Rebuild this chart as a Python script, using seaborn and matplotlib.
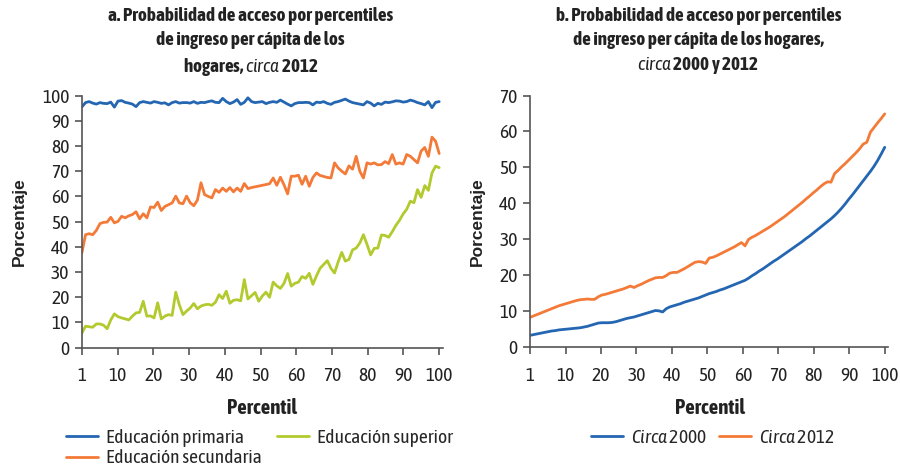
import numpy as np
import pandas as pd
import matplotlib
matplotlib.use("Agg")
import matplotlib.pyplot as plt
import seaborn as sns

# Data (percentiles 1..100)
percentil = list(range(1, 101))

primaria = [
    95.5, 97.2, 97.6, 97.0, 96.6, 97.2, 96.9, 96.8, 97.4, 95.4,
    97.8, 98.0, 97.3, 97.0, 96.6, 95.6, 97.2, 97.6, 97.3, 97.0,
    97.6, 97.3, 96.9, 97.1, 96.3, 97.2, 97.6, 97.0, 97.2, 97.2,
    97.0, 97.6, 96.9, 97.3, 97.2, 97.6, 97.9, 97.3, 97.2, 98.9,
    97.6, 96.8, 97.4, 98.4, 96.5, 97.3, 99.1, 97.6, 97.2, 97.4,
    97.6, 96.8, 97.3, 97.6, 97.3, 98.2, 97.4, 96.6, 95.9, 96.8,
    97.2, 97.2, 97.3, 97.2, 96.3, 97.4, 97.2, 97.6, 96.9, 96.5,
    97.3, 97.6, 98.1, 98.6, 97.8, 97.2, 96.9, 96.6, 96.3, 97.6,
    97.0, 95.9, 96.9, 96.5, 97.4, 97.2, 97.5, 97.9, 97.8, 97.4,
    97.6, 98.2, 97.8, 97.2, 96.8, 96.3, 97.6, 95.2, 97.3, 97.6,
]

secundaria = [
    37.6, 44.8, 45.2, 44.8, 46.5, 49.2, 49.7, 49.8, 51.7, 49.5,
    50.1, 52.1, 51.5, 52.3, 52.8, 53.9, 51.1, 53.1, 51.5, 55.8,
    55.6, 57.7, 54.4, 56.0, 56.7, 57.4, 60.1, 57.4, 57.1, 60.1,
    57.5, 56.3, 58.5, 65.4, 60.7, 60.0, 59.4, 62.7, 61.6, 63.3,
    62.0, 63.5, 61.8, 63.3, 62.0, 65.1, 63.1, 63.5, 63.8, 64.1,
    64.4, 64.7, 65.0, 67.3, 64.4, 67.6, 64.6, 61.0, 68.0, 68.0,
    68.4, 64.8, 68.0, 64.0, 67.5, 69.3, 68.3, 67.9, 67.5, 67.3,
    73.3, 71.3, 70.0, 68.9, 72.1, 70.8, 75.9, 70.0, 67.3, 73.3,
    72.8, 73.3, 72.5, 72.6, 73.8, 73.0, 76.6, 72.8, 73.3, 72.8,
    76.6, 75.9, 74.6, 73.3, 78.0, 79.4, 75.9, 83.5, 81.9, 77.0,
]

superior = [
    5.8, 8.5, 8.3, 8.1, 9.4, 9.4, 8.9, 7.5, 11.0, 13.4,
    12.3, 11.8, 11.4, 11.0, 12.5, 13.8, 14.0, 18.4, 12.5, 12.6,
    11.8, 17.8, 11.4, 12.5, 13.1, 12.8, 22.0, 17.0, 13.1, 14.5,
    15.7, 17.5, 15.4, 16.5, 17.0, 17.2, 16.8, 18.0, 21.0, 19.5,
    22.4, 17.6, 18.8, 19.0, 18.6, 27.0, 19.3, 20.6, 21.9, 18.4,
    20.5, 22.0, 20.0, 26.0, 24.5, 23.5, 25.5, 29.4, 24.4, 25.5,
    26.0, 28.2, 27.5, 29.5, 25.1, 28.5, 31.5, 33.0, 34.5, 31.5,
    29.6, 34.0, 37.8, 34.3, 35.0, 38.8, 39.5, 41.5, 44.8, 41.0,
    36.8, 39.4, 39.5, 44.7, 44.5, 43.8, 46.0, 48.5, 50.5, 53.0,
    54.9, 58.1, 57.5, 62.7, 59.6, 64.3, 62.4, 69.3, 72.0, 71.4,
]

circa_2000 = [
    3.3, 3.5, 3.7, 3.9, 4.1, 4.3, 4.5, 4.6, 4.8, 4.9,
    5.0, 5.1, 5.2, 5.3, 5.4, 5.6, 5.8, 6.1, 6.4, 6.7,
    6.8, 6.8, 6.8, 6.9, 7.1, 7.4, 7.7, 8.0, 8.2, 8.4,
    8.7, 9.0, 9.3, 9.6, 9.9, 10.2, 10.1, 9.8, 10.7, 11.2,
    11.5, 11.8, 12.1, 12.5, 12.8, 13.1, 13.4, 13.7, 14.1, 14.5,
    14.9, 15.2, 15.5, 15.9, 16.2, 16.6, 17.0, 17.4, 17.8, 18.2,
    18.6, 19.2, 19.9, 20.5, 21.2, 21.8, 22.5, 23.2, 23.9, 24.5,
    25.2, 25.9, 26.6, 27.3, 28.0, 28.7, 29.4, 30.2, 30.9, 31.7,
    32.5, 33.3, 34.1, 34.9, 35.7, 36.6, 37.6, 38.7, 39.9, 41.2,
    42.4, 43.7, 45.0, 46.3, 47.6, 48.9, 50.3, 51.9, 53.7, 55.6,
]

circa_2012 = [
    8.3, 8.7, 9.1, 9.5, 9.9, 10.3, 10.7, 11.1, 11.5, 11.8,
    12.1, 12.4, 12.7, 13.0, 13.2, 13.3, 13.4, 13.3, 13.3, 14.0,
    14.5, 14.7, 15.0, 15.3, 15.6, 15.9, 16.2, 16.6, 17.0, 16.6,
    17.1, 17.5, 18.0, 18.5, 18.9, 19.3, 19.4, 19.4, 19.9, 20.6,
    20.8, 20.8, 21.3, 21.8, 22.4, 23.0, 23.6, 23.8, 23.7, 23.3,
    24.8, 25.0, 25.4, 25.9, 26.4, 26.9, 27.4, 27.9, 28.5, 29.1,
    28.2, 30.0, 30.6, 31.1, 31.7, 32.3, 32.9, 33.5, 34.2, 34.9,
    35.6, 36.3, 37.1, 37.9, 38.7, 39.5, 40.3, 41.2, 42.0, 42.9,
    43.7, 44.6, 45.4, 46.0, 45.9, 48.3, 49.2, 50.2, 51.1, 52.1,
    53.1, 54.1, 55.2, 56.5, 57.0, 59.8, 61.1, 62.4, 63.6, 64.9,
]

tick_labels = ["1", "10", "20", "30", "40", "50", "60", "70", "80", "90", "100"]

# Long-format tables for seaborn
df_a = pd.DataFrame({
    "Percentil": percentil * 3,
    "valor": primaria + secundaria + superior,
    "serie": (["Educación primaria"] * 100 + ["Educación secundaria"] * 100
              + ["Educación superior"] * 100),
})
lab_2000 = r"$\mathit{Circa}$ 2000"
lab_2012 = r"$\mathit{Circa}$ 2012"
df_b = pd.DataFrame({
    "Percentil": percentil * 2,
    "valor": circa_2000 + circa_2012,
    "serie": [lab_2000] * 100 + [lab_2012] * 100,
})

FONT = "Asap Condensed"

sns.set_style("ticks")
plt.rcParams["font.family"] = [FONT, "DejaVu Sans"]
plt.rcParams["mathtext.fontset"] = "custom"
plt.rcParams["mathtext.it"] = FONT + ":italic"
plt.rcParams["mathtext.rm"] = FONT

BLUE = "#2466b2"
ORANGE = "#f47a38"
GREEN = "#b3ca2f"
GREY = "#555555"
TXT = "#222222"

fig = plt.figure(figsize=(9, 4.73), dpi=100)
ax_a = fig.add_axes([0.091, 0.265, 0.401, 0.533])
ax_b = fig.add_axes([0.589, 0.266, 0.398, 0.532])

sns.lineplot(data=df_a, x="Percentil", y="valor", hue="serie",
             palette={"Educación primaria": BLUE, "Educación secundaria": ORANGE,
                      "Educación superior": GREEN},
             linewidth=2.0, ax=ax_a)
sns.lineplot(data=df_b, x="Percentil", y="valor", hue="serie",
             palette={lab_2000: BLUE, lab_2012: ORANGE},
             linewidth=2.0, ax=ax_b)

for ax, ymax, ystep in [(ax_a, 100, 10), (ax_b, 70, 10)]:
    ax.set_xlim(1, 101)
    ax.set_ylim(0, ymax)
    ax.set_xticks(np.linspace(1, 100, 11))
    ax.set_xticklabels(tick_labels)
    ax.set_yticks(np.arange(0, ymax + 1, ystep))
    ax.set_xlabel("")
    ax.set_ylabel("")
    for s in ["top", "right"]:
        ax.spines[s].set_visible(False)
    for s in ["left", "bottom"]:
        ax.spines[s].set_color(GREY)
        ax.spines[s].set_linewidth(1.2)
    ax.tick_params(axis="both", direction="out", length=5, width=1.2,
                   color=GREY, labelsize=14, labelcolor=TXT, pad=4)
    ax.tick_params(axis="x", pad=9)
    ax.get_legend().remove()

# Titles
fig.text(0.278, 0.985,
         "a. Probabilidad de acceso por percentiles\nde ingreso per cápita de los\n"
         r"hogares, $\mathit{circa}$ 2012",
         ha="center", va="top", fontsize=13.8, fontweight="bold",
         linespacing=1.42, color=TXT)
fig.text(0.776, 0.985,
         "b. Probabilidad de acceso por percentiles\nde ingreso per cápita de los hogares,\n"
         r"$\mathit{circa}$ 2000 y 2012",
         ha="center", va="top", fontsize=13.8, fontweight="bold",
         linespacing=1.42, color=TXT)

# Axis labels
for xc in [0.291, 0.789]:
    fig.text(xc, 0.138, "Percentil", ha="center", va="center",
             fontsize=15, fontweight="bold", color=TXT)
for xc in [0.021, 0.53]:
    fig.text(xc, 0.532, "Porcentaje", ha="center", va="center", rotation=90,
             fontsize=12.5, fontweight="bold", color=TXT,
             family=["Liberation Sans", "DejaVu Sans"])

# Legends
h_a, l_a = ax_a.get_lines()[:3], ["Educación primaria", "Educación secundaria",
                                   "Educación superior"]
fig.legend(h_a, l_a, loc="upper left", bbox_to_anchor=(0.073, 0.093), ncol=2,
           frameon=False, fontsize=14, handlelength=1.65, handletextpad=0.4,
           columnspacing=0.8, labelspacing=0.12, borderaxespad=0, borderpad=0)
h_b = ax_b.get_lines()[:2]
fig.legend(h_b, [lab_2000, lab_2012], loc="upper left", bbox_to_anchor=(0.657, 0.093),
           ncol=2, frameon=False, fontsize=14, handlelength=1.65, handletextpad=0.4,
           columnspacing=0.6, borderaxespad=0, borderpad=0)

fig.savefig("out.png", dpi=100)
